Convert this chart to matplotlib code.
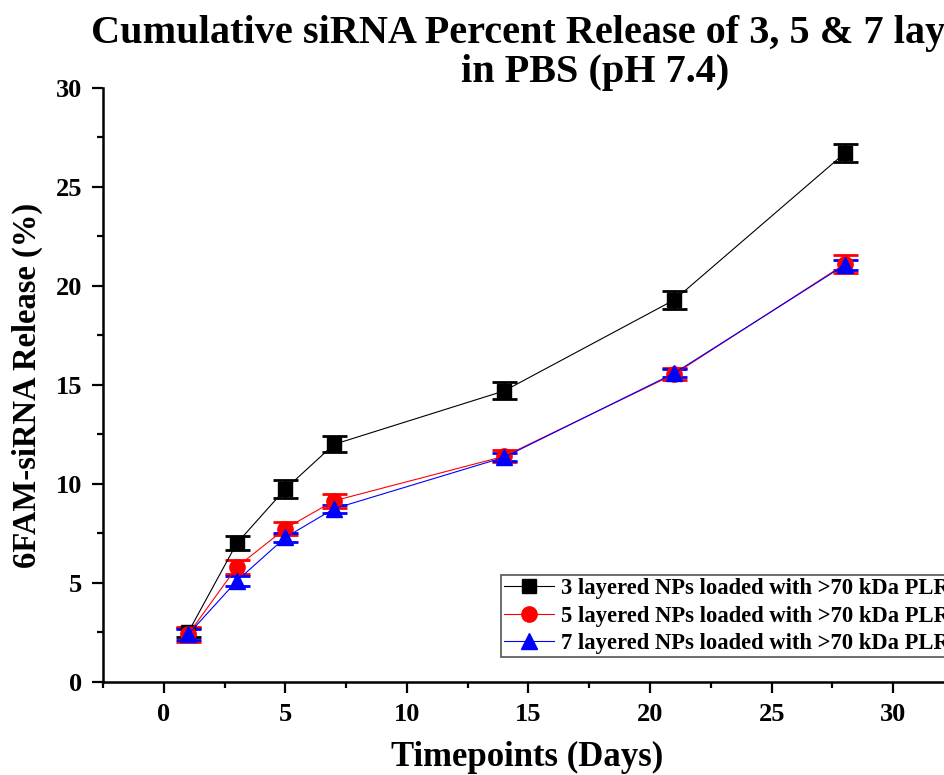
import matplotlib
matplotlib.use('Agg')
import matplotlib.pyplot as plt
from matplotlib.lines import Line2D
from matplotlib.ticker import MultipleLocator

plt.rcParams['font.family'] = 'Liberation Serif'
plt.rcParams['font.weight'] = 'bold'

# release data (days vs cumulative % release, mean +/- sd)
days = [1, 3, 5, 7, 14, 21, 28]

rel_3 = [2.5, 7.0, 9.75, 12.0, 14.7, 19.3, 26.7]
err_3 = [0.25, 0.35, 0.45, 0.4, 0.43, 0.45, 0.45]

rel_5 = [2.4, 5.8, 7.75, 9.15, 11.4, 15.55, 21.1]
err_5 = [0.4, 0.35, 0.35, 0.35, 0.3, 0.3, 0.45]

rel_7 = [2.4, 5.1, 7.3, 8.75, 11.35, 15.6, 21.05]
err_7 = [0.3, 0.25, 0.25, 0.2, 0.2, 0.2, 0.25]

labels = ['3 layered NPs loaded with >70 kDa PLR',
          '5 layered NPs loaded with >70 kDa PLR',
          '7 layered NPs loaded with >70 kDa PLR']

fig = plt.figure(figsize=(9.45, 7.75), dpi=100)
ax = fig.add_axes([0.109, 0.12, 0.9005, 0.7665])

series = [(rel_3, err_3, 'black', 's', 10),
          (rel_5, err_5, 'red', 'o', 11),
          (rel_7, err_7, 'blue', '^', 11)]
handles = []
for vals, errs, col, mk, ms in series:
    ax.errorbar(days, vals, yerr=errs, color=col, marker=mk, markersize=ms,
                linewidth=0.8, elinewidth=1.8, capsize=9, capthick=2.0)
    # legend key without the error bar
    handles.append(Line2D([], [], color=col, marker=mk, markersize=ms,
                          linewidth=0.8))

ax.set_xlim(-2.5, 32.5)
ax.set_ylim(0, 30)
ax.xaxis.set_major_locator(MultipleLocator(5))
ax.xaxis.set_minor_locator(MultipleLocator(2.5))
ax.yaxis.set_major_locator(MultipleLocator(5))
ax.yaxis.set_minor_locator(MultipleLocator(2.5))

for side in ['top', 'right']:
    ax.spines[side].set_visible(False)
for side in ['left', 'bottom']:
    ax.spines[side].set_linewidth(1.8)

ax.tick_params(which='major', direction='out', length=8, width=1.6,
               labelsize=19, pad=7)
ax.tick_params(which='minor', direction='out', length=4.5, width=1.6)
for t in ax.get_xticklabels() + ax.get_yticklabels():
    t.set_fontweight('bold')

ax.set_xlabel('Timepoints (Days)', fontsize=25, fontweight='bold')
ax.set_ylabel('6FAM-siRNA Release (%)', fontsize=23.5, fontweight='bold')
ax.xaxis.set_label_coords(0.498, -0.1)
ax.yaxis.set_label_coords(-0.07, 0.5)

fig.text(595 / 945, 1 - 53 / 775,
         'Cumulative siRNA Percent Release of 3, 5 & 7 layered NPs\nin PBS (pH 7.4)',
         ha='center', va='center', fontsize=29, fontweight='bold',
         linespacing=1.05)

leg = ax.legend(handles, labels, loc='upper left',
                bbox_to_anchor=(501 / 945, 1 - 575 / 775),
                bbox_transform=fig.transFigure, fontsize=16.3, frameon=True,
                fancybox=False, edgecolor='#555555', framealpha=1,
                handlelength=2.2, handletextpad=0.3, borderpad=0.15,
                labelspacing=0.27, borderaxespad=0)
leg.get_frame().set_linewidth(1.2)
for t in leg.get_texts():
    t.set_fontweight('bold')

fig.savefig('out.png', dpi=100)
